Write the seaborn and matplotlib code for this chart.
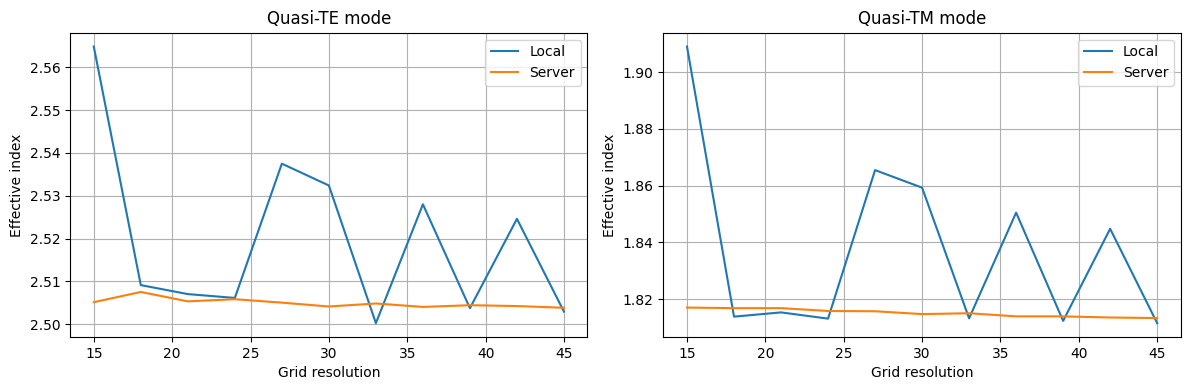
import matplotlib
matplotlib.use("Agg")
import matplotlib.pyplot as plt
import seaborn as sns
import pandas as pd

grid = [15, 18, 21, 24, 27, 30, 33, 36, 39, 42, 45]
te_local = [2.5649, 2.5091, 2.5070, 2.5061, 2.5375, 2.5324, 2.5002, 2.5280, 2.5037, 2.5246, 2.5029]
te_server = [2.5051, 2.5075, 2.5053, 2.5058, 2.5050, 2.5041, 2.5048, 2.5040, 2.5044, 2.5042, 2.5038]
tm_local = [1.9091, 1.8138, 1.8153, 1.8131, 1.8655, 1.8593, 1.8132, 1.8505, 1.8123, 1.8448, 1.8115]
tm_server = [1.8170, 1.8168, 1.8168, 1.8158, 1.8157, 1.8147, 1.8150, 1.8139, 1.8139, 1.8135, 1.8133]

fig, axes = plt.subplots(1, 2, figsize=(11.89, 3.9), dpi=100)
panels = [("Quasi-TE mode", te_local, te_server), ("Quasi-TM mode", tm_local, tm_server)]
for ax, (title, loc, srv) in zip(axes, panels):
    sns.lineplot(x=grid, y=loc, ax=ax, label="Local", color="#1f77b4")
    sns.lineplot(x=grid, y=srv, ax=ax, label="Server", color="#ff7f0e")
    ax.set_title(title)
    ax.set_xlabel("Grid resolution")
    ax.set_ylabel("Effective index")
    ax.grid(True)
    ax.legend(loc="upper right")
fig.subplots_adjust(left=0.0591, right=0.9930, top=0.9162, bottom=0.1359, wspace=0.147)
fig.savefig("out.png")
